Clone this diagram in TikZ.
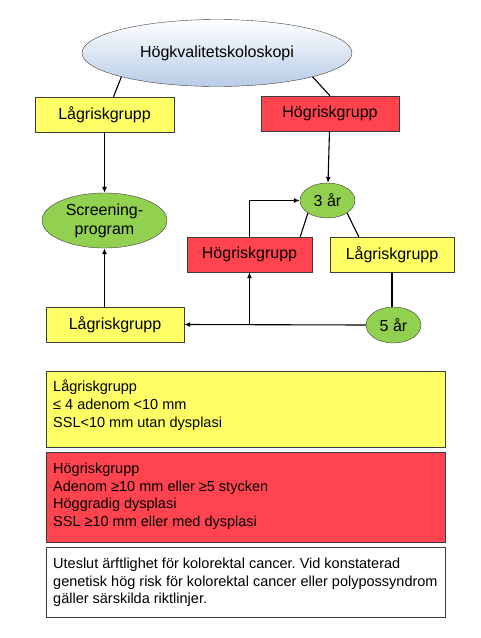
\documentclass[tikz,border=0pt]{standalone}
\usepackage{fontspec}
\setmainfont{Liberation Sans}
\frenchspacing
\usetikzlibrary{arrows.meta, positioning, calc, shapes.geometric}
\definecolor{lowyellow}{RGB}{255,255,102}
\definecolor{highred}{RGB}{255,68,80}
\definecolor{yeargreen}{RGB}{146,208,80}
\definecolor{skyblue}{RGB}{184,204,230}
\definecolor{rim}{RGB}{60,60,60}
\tikzset{
    % top ellipse, shaded white to light blue
    startell/.style={ellipse, draw=rim, top color=white, bottom color=skyblue,
        minimum width=270pt, minimum height=67pt, font=\fontsize{16}{19}\selectfont},
    % green ellipses (screening, follow-up intervals)
    yearell/.style={ellipse, draw=rim, fill=yeargreen, inner sep=0pt,
        font=\fontsize{16}{19}\selectfont, align=center},
    % risk group boxes in the flow
    lowbox/.style={draw=rim, fill=lowyellow, minimum height=35pt,
        font=\fontsize{16}{19}\selectfont},
    highbox/.style={draw=rim, fill=highred, minimum height=35pt,
        font=\fontsize{16}{19}\selectfont},
    % legend boxes at the bottom
    legbox/.style={draw=rim, anchor=north west, inner xsep=7pt, inner ysep=11pt,
        font=\fontsize{14.5}{17.6}\selectfont},
    % directed and plain connectors
    flow/.style={-{Latex[length=6pt, width=5pt]}, line width=1.1pt},
    link/.style={line width=1.1pt},
}
\newcommand{\legpar}[2]{\parbox[t][#1][t]{385pt}{\raggedright #2}}

\begin{document}
\begin{tikzpicture}[x=1pt, y=-1pt]
    \useasboundingbox (0,0) rectangle (480,638);

    % --- colonoscopy and first split ---
    \node[startell] (kolo) at (217,53) {Högkvalitetskoloskopi};
    \node[lowbox, minimum width=139pt]  (lagA) at (104.5,114.5) {Lågriskgrupp};
    \node[highbox, minimum width=138pt] (hogA) at (330,113.5)   {Högriskgrupp};

    % --- screening and intervals ---
    \node[yearell, minimum width=125pt, minimum height=55pt] (scr) at (104.5,220.5) {Screening-\\program};
    \node[yearell, minimum width=55pt, minimum height=35pt]  (tre) at (327.5,200.5) {3 år};
    \node[highbox, minimum width=125pt] (hogB) at (249.5,254.5) {Högriskgrupp};
    \node[lowbox, minimum width=124pt]  (lagB) at (392,254.5)   {Lågriskgrupp};
    \node[yearell, minimum width=55pt, minimum height=36pt]  (fem) at (393.5,325) {5 år};
    \node[lowbox, minimum width=138pt]  (lagC) at (115,324.5)   {Lågriskgrupp};

    % connectors
    \draw[link] (kolo.south west) -- ($(lagA.north)+(9,0)$);
    \draw[link] (kolo.south east) -- (hogA.north);
    \draw[flow] (lagA) -- (scr);
    \draw[flow] (hogA) -- (tre);
    \draw[link] (tre.south west) -- ($(hogB.north east)+(-12,0)$);
    \draw[link] (tre.south east) -- ($(lagB.north west)+(29,0)$);
    \draw[flow] (hogB.north) |- (tre.west);
    \draw[link] (lagB.south) -- (lagB.south |- fem.north);
    \draw[flow] (fem.west) -- (lagC.east);
    \draw[flow] (hogB.south |- fem.west) -- (hogB.south);
    \draw[flow] (scr.south |- lagC.north) -- (scr.south);

    % --- legend ---
    \node[legbox, inner ysep=9pt, fill=lowyellow] (legLow) at (46,371)
        {\legpar{58pt}{Lågriskgrupp\\≤ 4 adenom <10 mm\\SSL<10 mm utan dysplasi}};
    \node[legbox, fill=highred] (legHigh) at (46,452)
        {\legpar{68pt}{Högriskgrupp\\Adenom ≥10 mm eller ≥5 stycken\\Höggradig dysplasi\\SSL ≥10 mm eller med dysplasi}};
    \node[legbox, fill=white] (legNote) at (46,547)
        {\legpar{48pt}{Uteslut ärftlighet för kolorektal cancer. Vid konstaterad genetisk hög risk för kolorektal cancer eller polypossyndrom gäller särskilda riktlinjer.}};

\end{tikzpicture}
\end{document}
